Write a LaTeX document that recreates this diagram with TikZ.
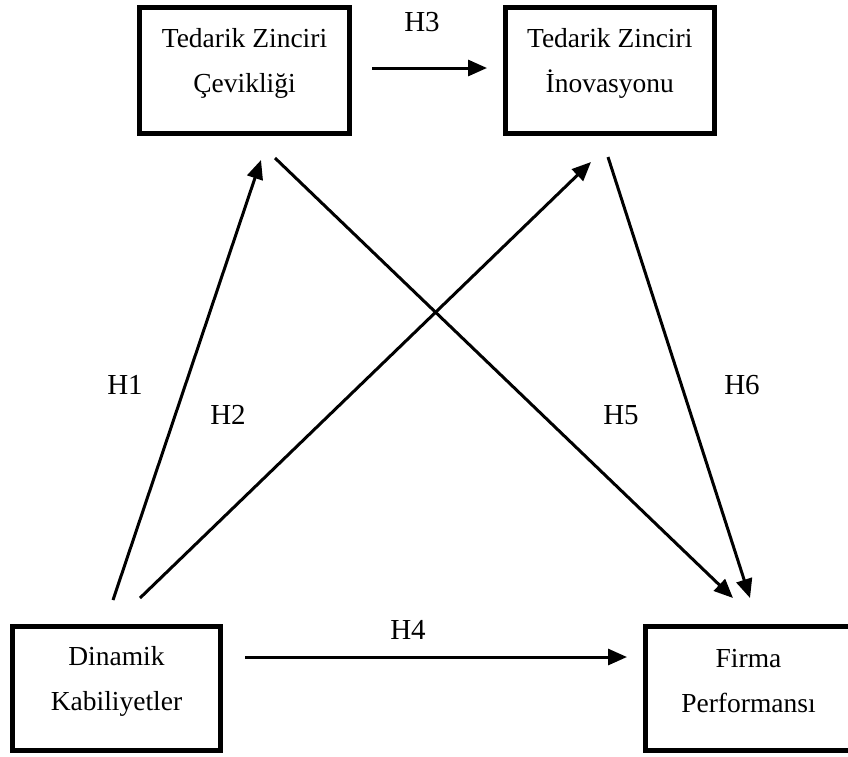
\documentclass[tikz,border=0pt]{standalone}
\usepackage{fontspec}
\setmainfont{Liberation Serif}
\usetikzlibrary{arrows.meta}

\tikzset{
  construct/.style={draw=black, line width=5pt, fill=none, inner sep=0pt},
  boxtext/.style={align=center, inner sep=0pt, font=\fontsize{27.5}{45}\selectfont},
  hlabel/.style={inner sep=0pt, font=\fontsize{29}{34}\selectfont},
  path/.style={draw=black, line width=3pt, -{Triangle[length=19pt,width=16pt]}}
}

\begin{document}
\begin{tikzpicture}[x=1pt, y=-1pt]
  \useasboundingbox (0,0) rectangle (848,756);

  % constructs
  \node[construct, minimum width=210pt, minimum height=126pt] (agil) at (244.5,70.5) {};
  \node[construct, minimum width=209.5pt, minimum height=126pt] (inov) at (609.75,70.5) {};
  \node[construct, minimum width=208pt, minimum height=124pt] (dyn) at (116.5,688.5) {};
  \node[construct, minimum width=206pt, minimum height=124pt] (perf) at (748.5,688.5) {};

  \node[boxtext] (agilT) at ([yshift=7pt]agil.center) {Tedarik Zinciri\\Çevikliği};
  \node[boxtext] (inovT) at ([yshift=7pt]inov.center) {Tedarik Zinciri\\İnovasyonu};
  \node[boxtext] (dynT)  at ([yshift=7pt]dyn.center)  {Dinamik\\Kabiliyetler};
  \node[boxtext] (perfT) at ([yshift=7pt]perf.center) {Firma\\Performansı};

  % connector end points, set off from the boxes
  \coordinate (h3s) at (372,68);   \coordinate (h3e) at (487,68);
  \coordinate (h1s) at (113,600);  \coordinate (h1e) at (261,160);
  \coordinate (h2s) at (140,598);  \coordinate (h2e) at (591,162);
  \coordinate (h5s) at (275,158);  \coordinate (h5e) at (733,598);
  \coordinate (h6s) at (608,157);  \coordinate (h6e) at (750,598);
  \coordinate (h4s) at (245,657);  \coordinate (h4e) at (627,657);

  % hypothesised paths
  \draw[path] (h3s) -- (h3e);
  \draw[path] (h1s) -- (h1e);
  \draw[path] (h2s) -- (h2e);
  \draw[path] (h5s) -- (h5e);
  \draw[path] (h6s) -- (h6e);
  \draw[path] (h4s) -- (h4e);

  % hypothesis labels
  \node[hlabel] (lh3) at (422,22)  {H3};
  \node[hlabel] (lh1) at (125,385) {H1};
  \node[hlabel] (lh2) at (228,415) {H2};
  \node[hlabel] (lh5) at (621,415) {H5};
  \node[hlabel] (lh6) at (742,385) {H6};
  \node[hlabel] (lh4) at (408,630) {H4};
\end{tikzpicture}
\end{document}
